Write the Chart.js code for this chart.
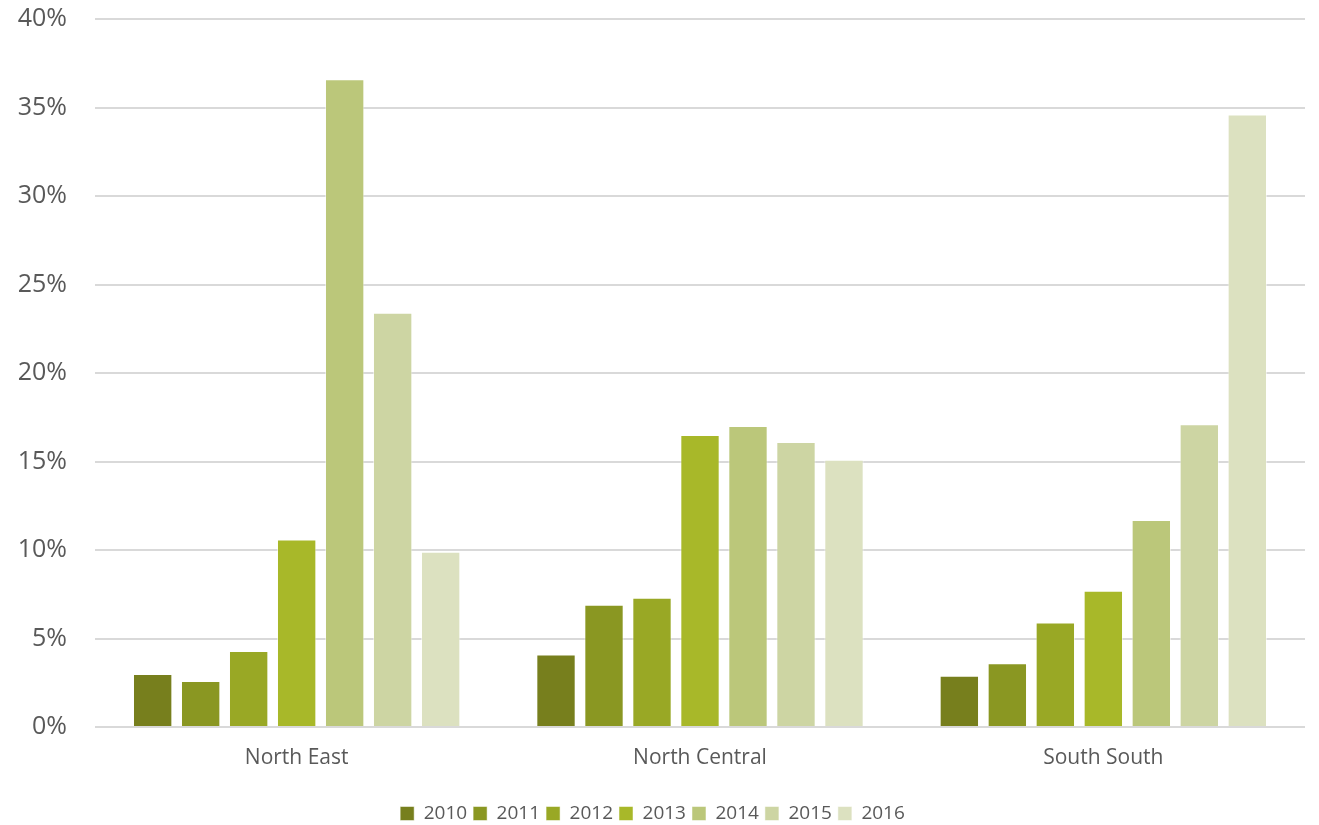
<!DOCTYPE html>
<html>
<head>
<meta charset="utf-8">
<script src="https://cdn.jsdelivr.net/npm/chart.js@4"></script>
<style>
	html, body { margin: 0; padding: 0; background: #fff; }
	#wrap { width: 1319px; height: 825px; }
</style>
</head>
<body>
<div id="wrap"><canvas id="chart"></canvas></div>
<script>
// Regions on the x axis
const regions = ["North East", "North Central", "South South"];
const years = ["2010", "2011", "2012", "2013", "2014", "2015", "2016"];

// Share per year (%), one array per year, in region order
const y2010 = [3.0, 4.1, 2.9];
const y2011 = [2.6, 6.9, 3.6];
const y2012 = [4.3, 7.3, 5.9];
const y2013 = [10.6, 16.5, 7.7];
const y2014 = [36.6, 17.0, 11.7];
const y2015 = [23.4, 16.1, 17.1];
const y2016 = [9.9, 15.1, 34.6];

const yearColors = ["#777f1d", "#8a9722", "#99a825", "#a8b829", "#bbc77a", "#cdd5a3", "#dce1c0"];
const TEXT = "#595959";
const FONT = "'Open Sans', Lato, sans-serif";

const series = [y2010, y2011, y2012, y2013, y2014, y2015, y2016];

// Legend sits low under the axis labels: trim its box height
const legendHeight = {
	id: "legendHeight",
	beforeInit(chart) {
		const fit = chart.legend.fit;
		chart.legend.fit = function () {
			fit.call(this);
			this.height = 27;
		};
	},
};

new Chart(document.getElementById("chart"), {
	type: "bar",
	data: {
		labels: regions,
		datasets: years.map((yr, i) => ({
			label: yr,
			data: series[i],
			backgroundColor: yearColors[i],
			borderColor: "rgba(255,255,255,0.5)",
			borderWidth: 1,
			categoryPercentage: 0.833,
			barPercentage: 0.82,
		})),
	},
	options: {
		responsive: true,
		maintainAspectRatio: false,
		animation: false,
		layout: { padding: { top: 0, right: 14, left: 0, bottom: 0 } },
		plugins: {
			tooltip: { enabled: false },
			legend: {
				position: "bottom",
				labels: {
					color: TEXT,
					font: { family: FONT, size: 19 },
					boxWidth: 14,
					boxHeight: 14,
					padding: 6,
				},
			},
		},
		scales: {
			x: {
				grid: { display: false },
				border: { display: false },
				ticks: { color: TEXT, font: { family: FONT, size: 21 }, padding: 10 },
				afterFit: scale => { scale.height = 71; },
			},
			y: {
				min: 0,
				max: 40,
				border: { display: false },
				grid: { color: "#d9d9d9", lineWidth: 2, drawTicks: false },
				ticks: {
					stepSize: 5,
					color: TEXT,
					font: { family: FONT, size: 25 },
					padding: 28,
					callback: v => v + "%",
				},
				afterFit: scale => {
					// keep the 40% line near the top edge, like the original
					scale.width = 95;
					scale.paddingTop = 19;
					scale.paddingBottom = 0;
				},
			},
		},
	},
	plugins: [legendHeight],
});
</script>
</body>
</html>
